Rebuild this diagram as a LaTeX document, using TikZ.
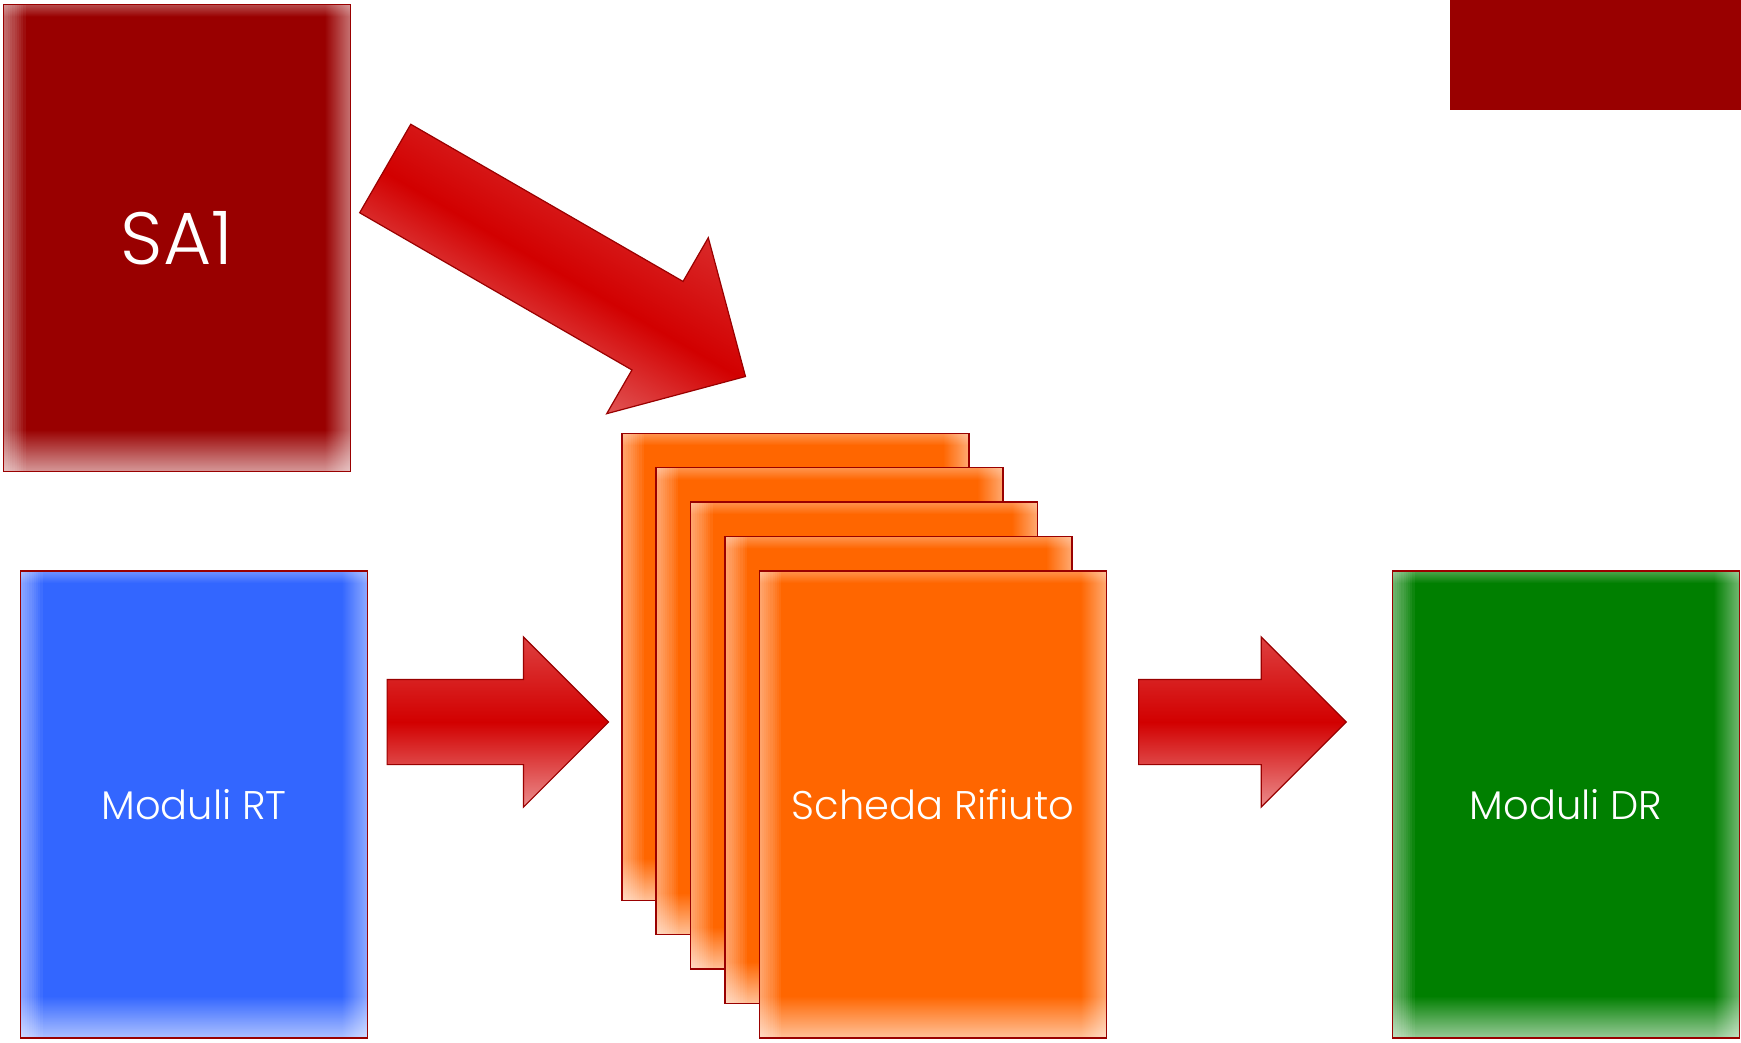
\documentclass[tikz,border=0pt]{standalone}
\usepackage{fontspec}
\setmainfont{Poppins Light}
\usetikzlibrary{arrows.meta, positioning, shapes, calc, fadings}

\definecolor{boxedge}{HTML}{990000}
\definecolor{sared}{HTML}{990000}
\definecolor{rtblue}{HTML}{3366FF}
\definecolor{schedaorange}{HTML}{FF6600}
\definecolor{drgreen}{HTML}{007F00}
\definecolor{arrowred}{HTML}{D20000}

\begin{document}
\begin{tikzpicture}[x=1pt, y=-1pt,
    box/.style={draw=boxedge, line width=1.5pt, fill=#1, text=white, inner sep=0pt,
        minimum width=347pt, minimum height=467pt,
        path picture={
            \foreach \k in {1,...,10}
                \fill[white, opacity=0.055] (path picture bounding box.south west) rectangle ([xshift=\k*2.2pt]path picture bounding box.north west);
            \fill[white, opacity=0.45, path fading=west] ([xshift=-26pt]path picture bounding box.south east) rectangle (path picture bounding box.north east);
            \fill[white, opacity=0.3, path fading=south] ([yshift=-12pt]path picture bounding box.north west) rectangle (path picture bounding box.north east);
            \fill[white, opacity=0.6, path fading=north] (path picture bounding box.south west) rectangle ([yshift=42pt]path picture bounding box.south east);
        }},
    bigarrow/.style={single arrow, draw=boxedge, line width=1.2pt, anchor=tail,
        single arrow tip angle=90, top color=arrowred!75!white, bottom color=arrowred!45!white, middle color=arrowred},
    label/.style={font=\fontsize{40}{48}\selectfont}
]
    \useasboundingbox (0,0) rectangle (1741,1042);

    \node[fill=sared, minimum width=291pt, minimum height=110pt, inner sep=0pt, anchor=north east] (tag) at (1741,0) {};

    \node[box=sared, font=\fontsize{74}{86}\selectfont] (sa) at (177,238) {SA1};
    \node[box=rtblue, label] (rt) at (194,804.5) {Moduli RT};

    \foreach \i in {0,...,3}
        \node[box=schedaorange] (sheet\i) at (795.3+\i*34.4, 666.8+\i*34.4) {};
    \node[box=schedaorange, label] (scheda) at ($(sheet3)+(34.4,34.4)$) {Scheda Rifiuto};

    \node[box=drgreen, label] (dr) at (1566,804.5) {Moduli DR};

    \node[bigarrow, rotate=-30, shading angle=-30, inner xsep=0pt, inner ysep=50.5pt, minimum height=416pt, minimum width=202pt, single arrow head extend=50.5pt] (saarrow) at (384.7,168.2) {};
    \node[bigarrow, inner xsep=0pt, inner ysep=42pt, minimum height=221.5pt, minimum width=169pt, single arrow head extend=42.5pt] (rtarrow) at (386.5,722) {};
    \node[bigarrow, inner xsep=0pt, inner ysep=42pt, minimum height=207.7pt, minimum width=169pt, single arrow head extend=42.5pt] (drarrow) at (1138,722) {};
\end{tikzpicture}
\end{document}
